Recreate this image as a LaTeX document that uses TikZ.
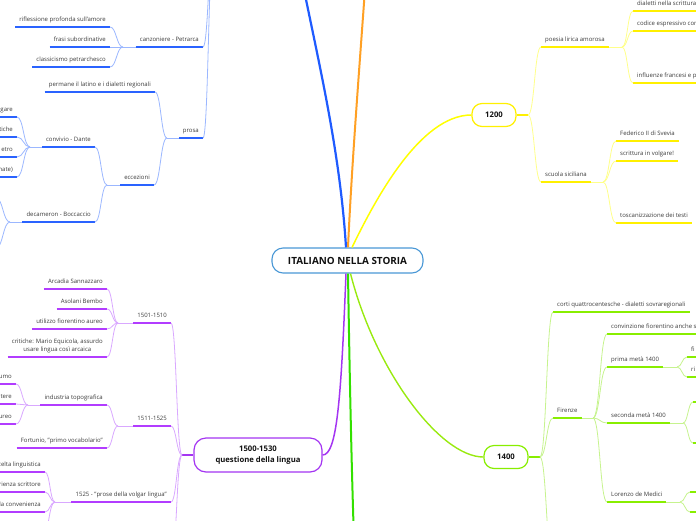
\documentclass[tikz,border=0pt]{standalone}
\usepackage{fontspec}
\setmainfont{Open Sans}
\usetikzlibrary{calc}
\definecolor{txt}{HTML}{3A3A3A}
\definecolor{txtd}{HTML}{111111}
\definecolor{cblue}{HTML}{4A98D6}
\definecolor{btrunk}{HTML}{1F5BFF}
\definecolor{bul}{HTML}{2A63FF}
\definecolor{bcon}{HTML}{9BB7FF}
\definecolor{otrunk}{HTML}{FFA024}
\definecolor{ytrunk}{HTML}{FFFF00}
\definecolor{yul}{HTML}{FFF000}
\definecolor{ycon}{HTML}{FFFF8A}
\definecolor{ptrunk}{HTML}{A435F2}
\definecolor{pul}{HTML}{B23CFF}
\definecolor{pcon}{HTML}{D9A8FF}
\definecolor{gtrunk}{HTML}{33E000}
\definecolor{ltrunk}{HTML}{99EA10}
\definecolor{lul}{HTML}{88EE00}
\definecolor{lcon}{HTML}{C6F38E}
\begin{document}
\begin{tikzpicture}[x=1pt,y=-1pt,
  topic/.style={font=\fontsize{6}{7.4}\selectfont, text=txt, inner xsep=4pt, inner ysep=4pt, text height=4.6pt, text depth=1.5pt},
  mtopic/.style={font=\fontsize{6}{8}\selectfont, text=txt, inner xsep=4pt, inner ysep=4pt, align=center},
  ul/.style={append after command={(\tikzlastnode.south west) edge[draw=#1, line width=1.8pt] (\tikzlastnode.south east)}},
  bt/.style={topic, ul=bul}, pt/.style={topic, ul=pul}, yt/.style={topic, ul=yul}, lt/.style={topic, ul=lul},
  bc/.style={draw=bcon, line width=0.8pt}, pc/.style={draw=pcon, line width=0.8pt},
  yc/.style={draw=ycon, line width=0.8pt}, lc/.style={draw=lcon, line width=0.8pt},
  sc/.style={to path={.. controls ($(\tikztostart)!0.5!(\tikztotarget|-\tikztostart)$) and ($(\tikztotarget)!0.5!(\tikztostart|-\tikztotarget)$) .. (\tikztotarget)}},
  lvl/.style={fill=white, line width=1.2pt, rounded corners=10pt, minimum height=23pt, font=\bfseries\fontsize{7.7}{11}\selectfont, text=txtd, inner sep=2pt},
  central/.style={draw=cblue, fill=white, line width=1.1pt, rounded corners=11pt, minimum width=151pt, minimum height=25pt, font=\bfseries\fontsize{9.9}{11}\selectfont, text=txtd}
]
\useasboundingbox (0,0) rectangle (696,520);
\clip (0,0) rectangle (696,520);

% ---------- central and trunks
\node[central] (main) at (347.5,260.5) {ITALIANO NELLA STORIA};
\node[lvl, draw=yul, minimum width=44pt] (n12) at (494,115) {1200};
\node[lvl, draw=lul, minimum width=44pt] (n14) at (506,457) {1400};
\node[lvl, draw=ptrunk, minimum width=128pt, minimum height=34pt, rounded corners=12pt, align=center] (q) at (258,455) {1500-1530\\questione della lingua};
\coordinate (top13) at (301,-25);
\coordinate (top16) at (366,-25);
\coordinate (gbot) at (354,540);

\draw[btrunk, line width=2.2pt] ([xshift=-1.5pt]main.north) .. controls (340,150) and (318,60) .. (top13);
\draw[otrunk, line width=2pt] ([xshift=0.5pt]main.north) .. controls (352,160) and (360,60) .. (top16);
\draw[ytrunk, line width=1.5pt] ([xshift=4.5pt]main.north) .. controls (375,200) and (420,115) .. (n12.west);
\draw[ptrunk, line width=1.5pt] ([xshift=-1.5pt]main.south) .. controls (341,400) and (337,455) .. (q.east);
\draw[gtrunk, line width=2pt] ([xshift=0.5pt]main.south) .. controls (350,400) and (352,480) .. (gbot);
\draw[ltrunk, line width=1.4pt] ([xshift=3pt]main.south) .. controls (375,370) and (440,457) .. (n14.west);

% ---------- blue branch (1300, off picture)
\coordinate (b13) at (214,-60);
\node[bt, anchor=south east] (cp) at (203,47) {canzoniere - Petrarca};
\node[bt, anchor=south east] (rif) at (110,27) {riflessione profonda sull'amore};
\node[bt, anchor=south east] (fra) at (110,47) {frasi subordinative};
\node[bt, anchor=south east] (cla) at (110,67) {classicismo petrarchesco};
\coordinate (jcp) at (123,47);
\draw[bc] (cp.south east) to[sc] (b13);
\draw[bc] (jcp) -- (cp.south west);
\draw[bc] (jcp) to[sc] (rif.south east);
\draw[bc] (jcp) to[sc] (fra.south east);
\draw[bc] (jcp) to[sc] (cla.south east);

\node[bt, anchor=south east] (pro) at (203,138) {prosa};
\coordinate (jpro) at (167,138);
\draw[bc] (pro.south east) to[sc] (b13);
\draw[bc] (jpro) -- (pro.south west);
\node[bt, anchor=south east] (per) at (155,92) {permane il latino e i dialetti regionali};
\node[bt, anchor=south east] (ecc) at (154,185) {eccezioni};
\draw[bc] (jpro) to[sc] (per.south east);
\draw[bc] (jpro) to[sc] (ecc.south east);

\coordinate (jecc) at (107,185);
\draw[bc] (jecc) -- (ecc.south west);
\node[bt, anchor=south east] (con) at (95,147) {convivio - Dante};
\node[bt, anchor=south east] (dec) at (95,222) {decameron - Boccaccio};
\draw[bc] (jecc) to[sc] (con.south east);
\draw[bc] (jecc) to[sc] (dec.south east);

\coordinate (jcon) at (30,147);
\draw[bc] (jcon) -- (con.south west);
\node[bt, anchor=south east] (cv1) at (17,117) {gare};
\node[bt, anchor=south east] (cv2) at (17,137) {tiche};
\node[bt, anchor=south east] (cv3) at (17,157) {etro};
\node[bt, anchor=south east] (cv4) at (17,177) {nate)};
\foreach \n in {cv1,cv2,cv3,cv4} \draw[bc] (jcon) to[sc] (\n.south east);

\coordinate (jdec) at (10,222);
\draw[bc] (jdec) -- (dec.south west);
\coordinate (dc1) at (-4,198);
\coordinate (dc2) at (-4,248);
\draw[bc] (jdec) to[sc] (dc1);
\draw[bc] (jdec) to[sc] (dc2);

% ---------- purple branch
\coordinate (jq) at (182,455);
\draw[ptrunk, line width=1.2pt] (jq) -- (q.west);
\node[pt, anchor=south east] (p1) at (171,323) {1501-1510};
\node[pt, anchor=south east] (p2) at (171,426) {1511-1525};
\node[pt, anchor=south east] (p3) at (171,502) {1525 - "prose della volgar lingua"};
\coordinate (p4) at (171,565);
\foreach \n in {p1,p2,p3} \draw[pc] (jq) to[sc] (\n.south east);
\draw[pc] (jq) to[sc] (p4);

\coordinate (jp1) at (118,323);
\draw[pc] (jp1) -- (p1.south west);
\node[pt, anchor=south east] (arc) at (107,289) {Arcadia Sannazzaro};
\node[pt, anchor=south east] (aso) at (107,309) {Asolani Bembo};
\node[pt, anchor=south east] (uti) at (107,329) {utilizzo fiorentino aureo};
\node[mtopic, ul=pul, anchor=south east] (cri) at (107,357) {critiche: Mario Equicola, assurdo\\usare lingua così arcaica};
\foreach \n in {arc,aso,uti,cri} \draw[pc] (jp1) to[sc] (\n.south east);

\coordinate (jp2) at (118,426);
\draw[pc] (jp2) -- (p2.south west);
\node[pt, anchor=south east] (ind) at (107,405) {industria topografica};
\node[pt, anchor=south east] (for) at (107,448) {Fortunio, "primo vocabolario"};
\draw[pc] (jp2) to[sc] (ind.south east);
\draw[pc] (jp2) to[sc] (for.south east);

\coordinate (jind) at (28,405);
\draw[pc] (jind) -- (ind.south west);
\node[pt, anchor=south east] (in1) at (16,384) {umo};
\node[pt, anchor=south east] (in2) at (16,404) {tere};
\node[pt, anchor=south east] (in3) at (16,424) {ureo};
\foreach \n in {in1,in2,in3} \draw[pc] (jind) to[sc] (\n.south east);

\coordinate (jp3) at (55,502);
\draw[pc] (jp3) -- (p3.south west);
\node[pt, anchor=south east] (bb1) at (45,472) {scelta linguistica};
\node[pt, anchor=south east] (bb2) at (45,492) {esperienza scrittore};
\node[pt, anchor=south east] (bb3) at (45,512) {la convenienza};
\coordinate (bb4) at (42,540);
\foreach \n in {bb1,bb2,bb3} \draw[pc] (jp3) to[sc] (\n.south east);
\draw[pc] (jp3) to[sc] (bb4);

% ---------- yellow branch (1200)
\coordinate (j12) at (528,115);
\draw[yul, line width=1.2pt] (n12.east) -- (j12);
\node[yt, anchor=south west] (poe) at (541,47) {poesia lirica amorosa};
\node[yt, anchor=south west] (scu) at (541,182) {scuola siciliana};
\draw[yc] (j12) to[sc] (poe.south west);
\draw[yc] (j12) to[sc] (scu.south west);

\coordinate (jpoe) at (622,47);
\draw[yc] (poe.south east) -- (jpoe);
\node[yt, anchor=south west] (po1) at (633,11) {dialetti nella scrittura};
\node[yt, anchor=south west] (po2) at (633,31) {codice espressivo comune};
\node[yt, anchor=south west] (po3) at (633,83) {influenze francesi e provenzali};
\foreach \n in {po1,po2,po3} \draw[yc] (jpoe) to[sc] (\n.south west);

\coordinate (jscu) at (603,182);
\draw[yc] (scu.south east) -- (jscu);
\node[yt, anchor=south west] (sc1) at (616,141) {Federico II di Svevia};
\node[yt, anchor=south west] (sc2) at (616,161) {scrittura in volgare!};
\node[yt, anchor=south west] (sc3) at (616,223) {toscanizzazione dei testi};
\foreach \n in {sc1,sc2,sc3} \draw[yc] (jscu) to[sc] (\n.south west);

% ---------- yellow-green branch (1400)
\coordinate (j14) at (540,457);
\draw[lul, line width=1.2pt] (n14.east) -- (j14);
\node[lt, anchor=south west] (cor) at (553,312) {corti quattrocentesche - dialetti sovraregionali};
\node[lt, anchor=south west] (fir) at (553,418) {Firenze};
\coordinate (n14d) at (553,565);
\draw[lc] (j14) to[sc] (cor.south west);
\draw[lc] (j14) to[sc] (fir.south west);
\draw[lc] (j14) to[sc] (n14d);

\coordinate (jfir) at (593,418);
\draw[lc] (fir.south east) -- (jfir);
\node[lt, anchor=south west] (fi1) at (607,334) {convinzione fiorentino anche superiore};
\node[lt, anchor=south west] (fi2) at (607,367) {prima metà 1400};
\node[lt, anchor=south west] (fi3) at (607,423) {seconda metà 1400};
\node[lt, anchor=south west] (fi4) at (607,502) {Lorenzo de Medici};
\foreach \n in {fi1,fi2,fi3,fi4} \draw[lc] (jfir) to[sc] (\n.south west);

\coordinate (jpm) at (677,367);
\draw[lc] (fi2.south east) -- (jpm);
\node[lt, anchor=south west] (pm1) at (687,357) {fi};
\node[lt, anchor=south west] (pm2) at (687,377) {ri};
\draw[lc] (jpm) to[sc] (pm1.south west);
\draw[lc] (jpm) to[sc] (pm2.south west);

\coordinate (jsm) at (683,423);
\draw[lc] (fi3.south east) -- (jsm);
\coordinate (sm1) at (693,402);
\coordinate (sm2) at (693,443);
\coordinate (sm1e) at (705,402);
\coordinate (sm2e) at (705,443);
\draw[lc] (jsm) to[sc] (sm1);
\draw[lc] (jsm) to[sc] (sm2);
\draw[lul, line width=1.8pt] (sm1) -- (sm1e);
\draw[lul, line width=1.8pt] (sm2) -- (sm2e);

\coordinate (jlo) at (680,502);
\draw[lc] (fi4.south east) -- (jlo);
\coordinate (lo1) at (690,492);
\coordinate (lo2) at (690,512);
\coordinate (lo1e) at (705,492);
\coordinate (lo2e) at (705,512);
\draw[lc] (jlo) to[sc] (lo1);
\draw[lc] (jlo) to[sc] (lo2);
\draw[lul, line width=1.8pt] (lo1) -- (lo1e);
\draw[lul, line width=1.8pt] (lo2) -- (lo2e);
\end{tikzpicture}
\end{document}
